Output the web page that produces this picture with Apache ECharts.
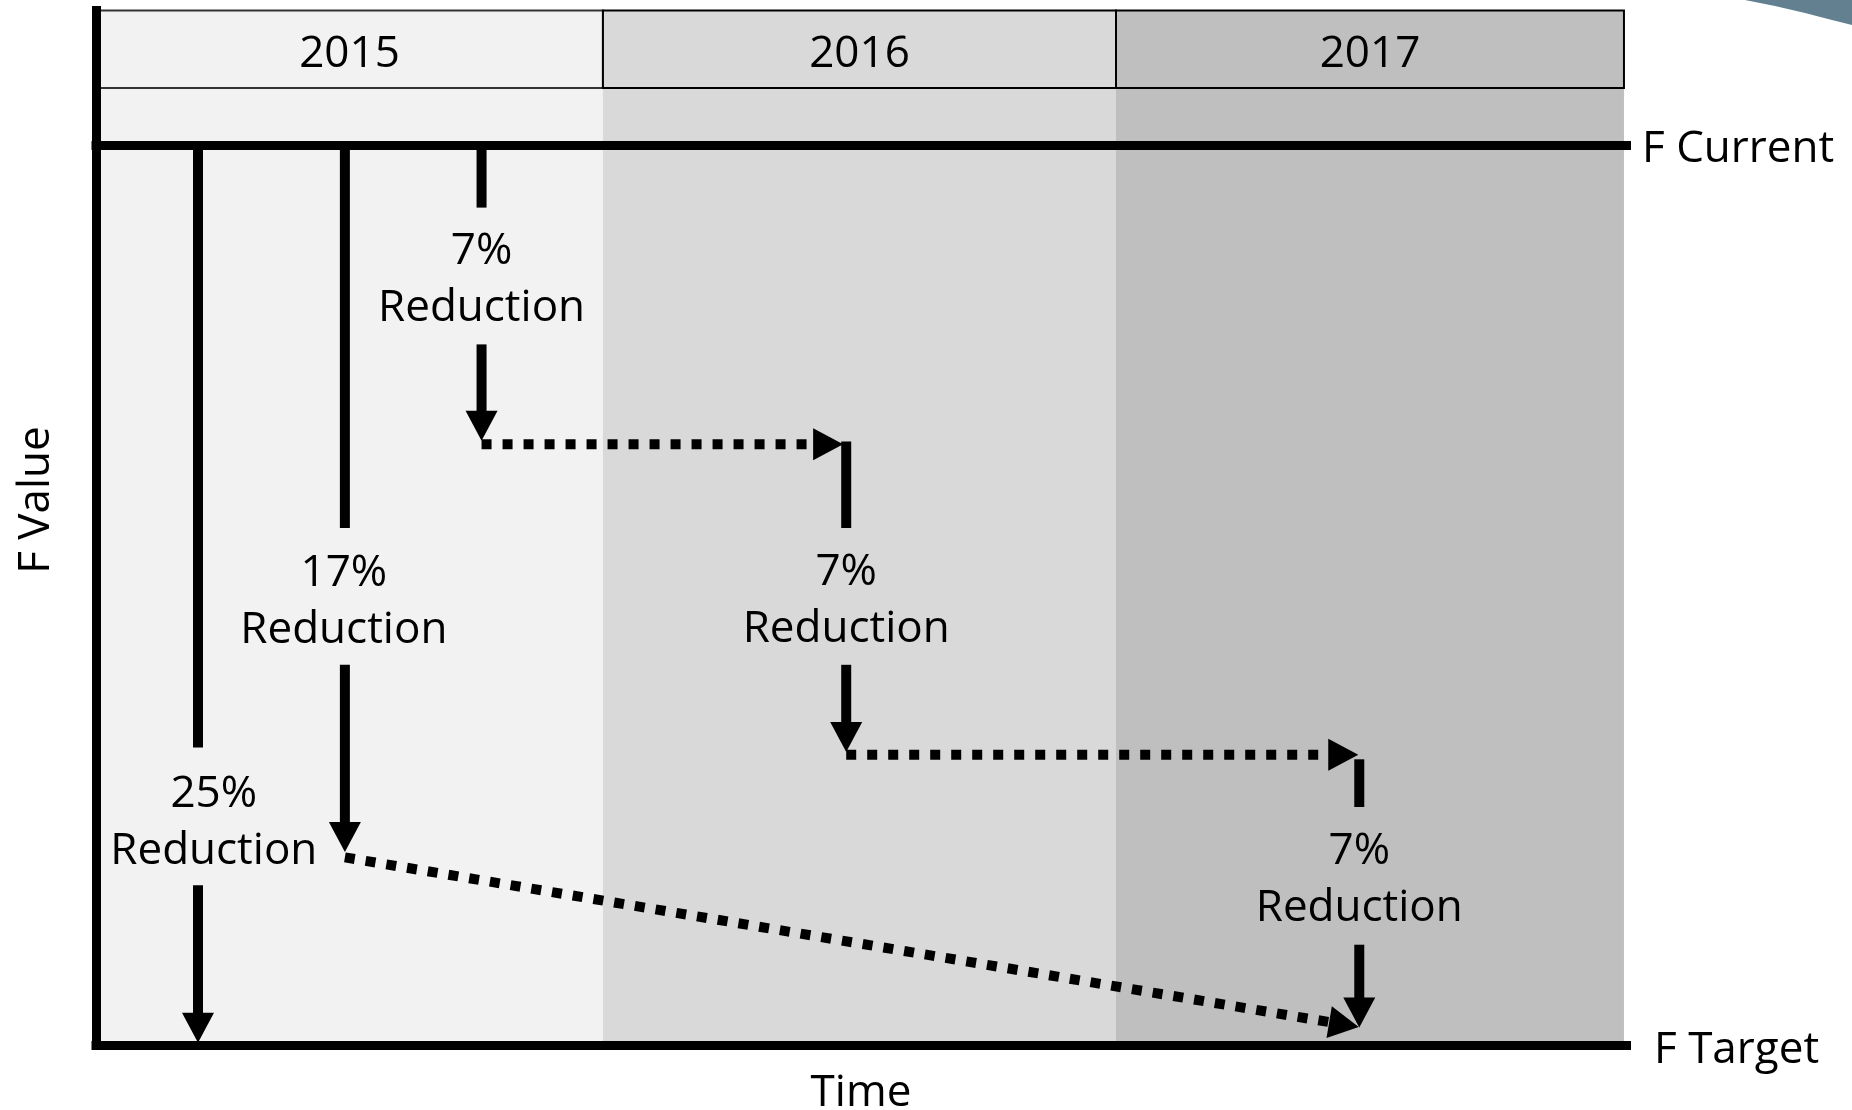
<!DOCTYPE html>
<html>
<head>
<meta charset="utf-8">
<script src="https://cdn.jsdelivr.net/npm/echarts@6/dist/echarts.min.js"></script>
<style>
  html, body { margin: 0; padding: 0; background: #fff; }
  #chart { width: 1852px; height: 1110px; }
</style>
</head>
<body>
<div id="chart"></div>
<script>
// x = time in years from the start of 2015, y = F as % of the way from F Target (0) to F Current (100)
const years = ['2015', '2016', '2017'];
const yearStart = [0, 0.994, 2.0];
const yearEnd = [0.994, 2.0, 2.996];
const bandColors = ['#f2f2f2', '#d9d9d9', '#bfbfbf'];
const headerBottom = 106.4;
const headerTop = 115;

const refNames = ['F Current', 'F Target'];
const refValues = [100, 0];
const refEnd = 3.01;

// solid pieces without head: [x, yFrom, yTo]
const shafts = [
  [0.200, 100, 33.1],
  [0.488, 100, 57.5],
  [0.756, 100, 93.1],
  [1.471, 67.1, 57.5],
  [2.477, 31.8, 26.5]
];
// solid pieces ending in an arrow head: [x, yFrom, yTip]
const arrows = [
  [0.200, 17.8, 0.3],
  [0.488, 42.3, 21.5],
  [0.756, 77.9, 67.2],
  [1.471, 42.3, 32.6],
  [2.477, 11.2, 2.0]
];
// dotted arrows: [x1, y1, x2, y2]
const dotted = [
  [0.756, 66.8, 1.465, 66.8],
  [1.471, 32.3, 2.475, 32.3],
  [0.488, 20.9, 2.476, 2.05]
];
// reduction labels
const labelPct = ['25%', '17%', '7%', '7%', '7%'];
const labelX = [0.231, 0.486, 0.756, 1.471, 2.477];
const labelY = [25.3, 49.8, 85.6, 49.9, 19.0];

const font = 'Open Sans';
const fontSize = 44;
const textDrop = 5; // Open Sans sits high with verticalAlign middle

const segData = [];
shafts.forEach(s => segData.push([s[0], s[1], s[0], s[2], 0, 0]));
arrows.forEach(a => segData.push([a[0], a[1], a[0], a[2], 1, 0]));
dotted.forEach(d => segData.push([d[0], d[1], d[2], d[3], 1, 1]));

function renderBand (params, api) {
  const i = params.dataIndex;
  const tl = api.coord([api.value(0), headerTop]);
  const br = api.coord([api.value(1), 0]);
  const hb = api.coord([api.value(1), headerBottom]);
  const inset = i === 0 ? 4 : 0;
  return {
    type: 'group',
    children: [
      { type: 'rect', shape: { x: tl[0], y: tl[1], width: br[0] - tl[0], height: br[1] - tl[1] },
        style: { fill: bandColors[i] } },
      { type: 'rect', shape: { x: tl[0] + inset, y: tl[1], width: hb[0] - tl[0] - inset, height: hb[1] - tl[1] },
        style: { fill: bandColors[i], stroke: i === 0 ? '#333' : '#000', lineWidth: 2 } },
      { type: 'text', x: (tl[0] + hb[0]) / 2, y: (tl[1] + hb[1]) / 2 + textDrop,
        style: { text: years[i], fontFamily: font, fontSize: fontSize, fill: '#000', align: 'center', verticalAlign: 'middle' } }
    ]
  };
}

function renderSeg (params, api) {
  const p1 = api.coord([api.value(0), api.value(1)]);
  const p2 = api.coord([api.value(2), api.value(3)]);
  const head = api.value(4);
  const isDot = api.value(5);
  const dx = p2[0] - p1[0], dy = p2[1] - p1[1];
  const len = Math.sqrt(dx * dx + dy * dy);
  const ux = dx / len, uy = dy / len;
  const L = 30, W = 32;
  const bx = p2[0] - ux * L, by = p2[1] - uy * L;
  const end = head ? [bx + (isDot ? 0 : ux * 2), by + (isDot ? 0 : uy * 2)] : p2;
  const children = [{
    type: 'line',
    shape: { x1: p1[0], y1: p1[1], x2: end[0], y2: end[1] },
    style: { stroke: '#000', lineWidth: 10, lineDash: isDot ? [10, 11] : null, lineCap: 'butt' }
  }];
  if (head) {
    children.push({
      type: 'polygon',
      shape: { points: [[p2[0], p2[1]], [bx - uy * W / 2, by + ux * W / 2], [bx + uy * W / 2, by - ux * W / 2]] },
      style: { fill: '#000' }
    });
  }
  return { type: 'group', children: children };
}

function renderLabel (params, api) {
  const p = api.coord([api.value(0), api.value(1)]);
  return {
    type: 'text', x: p[0], y: p[1] + textDrop,
    style: {
      text: labelPct[params.dataIndex] + '\nReduction',
      fontFamily: font, fontSize: fontSize, lineHeight: 57, fill: '#000',
      align: 'center', verticalAlign: 'middle'
    }
  };
}

const chart = echarts.init(document.getElementById('chart'));
chart.setOption({
  animation: false,
  backgroundColor: '#fff',
  grid: { left: 96, right: 226, top: 10.5, bottom: 64.5, outerBoundsMode: 'none', containLabel: false },
  xAxis: {
    type: 'value', min: 0, max: 3,
    axisLine: { show: false }, axisTick: { show: false }, axisLabel: { show: false }, splitLine: { show: false },
    name: 'Time', nameLocation: 'middle', nameGap: 26,
    nameTextStyle: { fontFamily: font, fontSize: fontSize, color: '#000' }
  },
  yAxis: {
    type: 'value', min: 0, max: 115, z: 10,
    axisLine: { show: true, lineStyle: { color: '#000', width: 9, cap: 'square' } },
    axisTick: { show: false }, axisLabel: { show: false }, splitLine: { show: false },
    name: 'F Value', nameLocation: 'middle', nameGap: 38, nameRotate: 90,
    nameTextStyle: { fontFamily: font, fontSize: fontSize, color: '#000', padding: [0, 0, 0, 56] }
  },
  graphic: [{
    type: 'polygon',
    shape: { points: [[1745, 0], [1775, 6], [1805, 13], [1832, 20], [1852, 25], [1852, 0]] },
    style: { fill: '#62808f' }
  }],
  series: [
    {
      type: 'custom', z: 1, silent: true,
      renderItem: renderBand,
      data: years.map((y, i) => [yearStart[i], yearEnd[i]])
    },
    ...refNames.map((n, i) => ({
      type: 'line', name: n, z: 5, silent: true, clip: false, symbol: 'none',
      lineStyle: { color: '#000', width: 9, cap: 'square' },
      data: [[0, refValues[i]], [refEnd, refValues[i]]],
      endLabel: {
        show: true, formatter: n, distance: i === 0 ? 11 : 23, offset: [0, i === 0 ? 4 : 5],
        fontFamily: font, fontSize: fontSize, color: '#000'
      }
    })),
    {
      type: 'custom', z: 6, silent: true,
      renderItem: renderSeg,
      data: segData
    },
    {
      type: 'custom', z: 7, silent: true,
      renderItem: renderLabel,
      data: labelPct.map((p, i) => [labelX[i], labelY[i]])
    }
  ]
});
</script>
</body>
</html>
